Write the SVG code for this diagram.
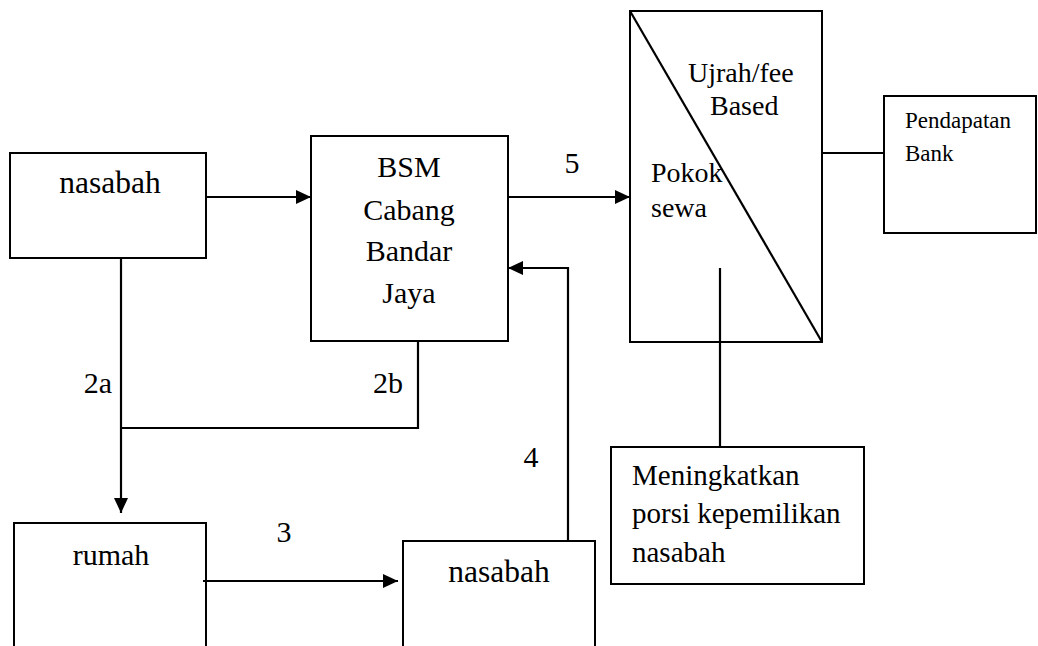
<svg xmlns="http://www.w3.org/2000/svg" width="1038" height="646" viewBox="0 0 1038 646">
<style>
.box{fill:#fff;stroke:#000;stroke-width:2}
.ln{fill:none;stroke:#000;stroke-width:2.2}
text{font-family:'Liberation Serif','DejaVu Serif',serif;fill:#000}
.big{font-size:30px}
.nas{font-size:31.5px}
.mid{font-size:28px}
.men{font-size:29px}
.sm{font-size:23px}
</style>
<defs>
<marker id="ah" markerWidth="15" markerHeight="14" refX="15" refY="7" orient="auto" markerUnits="userSpaceOnUse">
<path d="M0,0 L15,7 L0,14 Z" fill="#000"/>
</marker>
</defs>
<rect width="1038" height="646" fill="#fff"/>
<g id="nasabah1">
<rect class="box" x="10" y="153" width="196" height="105"/>
<text class="nas" x="110" y="193" text-anchor="middle">nasabah</text>
</g>
<g id="bsm">
<rect class="box" x="311" y="136" width="197" height="205"/>
<text class="big" x="409" y="177" text-anchor="middle">BSM</text>
<text class="big" x="409" y="220" text-anchor="middle">Cabang</text>
<text class="big" x="409" y="261" text-anchor="middle">Bandar</text>
<text class="big" x="409" y="303" text-anchor="middle">Jaya</text>
</g>
<g id="sewa">
<rect class="box" x="630" y="11" width="192" height="331"/>
<line class="ln" x1="630" y1="11" x2="822" y2="342"/>
<text class="mid" x="688" y="82">Ujrah/fee</text>
<text class="mid" x="710" y="115">Based</text>
<text class="mid" x="651" y="182">Pokok</text>
<text class="mid" x="651" y="217">sewa</text>
</g>
<g id="pendapatan">
<rect class="box" x="884" y="96" width="152" height="137"/>
<text class="sm" x="905" y="128">Pendapatan</text>
<text class="sm" x="905" y="161">Bank</text>
</g>
<g id="meningkatkan">
<rect class="box" x="611" y="447" width="253" height="137"/>
<text class="men" x="632" y="485">Meningkatkan</text>
<text class="men" x="632" y="523">porsi kepemilikan</text>
<text class="men" x="632" y="562">nasabah</text>
</g>
<g id="rumah">
<rect class="box" x="14" y="523" width="192" height="140"/>
<text class="big" x="111" y="565" text-anchor="middle">rumah</text>
</g>
<g id="nasabah2">
<rect class="box" x="403" y="541" width="192" height="120"/>
<text class="nas" x="499" y="582" text-anchor="middle">nasabah</text>
</g>
<g id="connectors">
<line class="ln" x1="206" y1="197" x2="311" y2="197" marker-end="url(#ah)"/>
<line class="ln" x1="508" y1="197" x2="630" y2="197" marker-end="url(#ah)"/>
<polyline class="ln" points="568,541 568,268 508,268" marker-end="url(#ah)"/>
<line class="ln" x1="121" y1="258" x2="121" y2="513" marker-end="url(#ah)"/>
<polyline class="ln" points="121,428 418,428 418,341"/>
<line class="ln" x1="203" y1="581" x2="398" y2="581" marker-end="url(#ah)"/>
<line class="ln" x1="822" y1="153" x2="884" y2="153"/>
<line class="ln" x1="720" y1="268" x2="720" y2="447"/>
<text class="big" x="572" y="173" text-anchor="middle">5</text>
<text class="big" x="98" y="393" text-anchor="middle">2a</text>
<text class="big" x="388" y="393" text-anchor="middle">2b</text>
<text class="big" x="531" y="467" text-anchor="middle">4</text>
<text class="big" x="284" y="542" text-anchor="middle">3</text>
</g>
</svg>
